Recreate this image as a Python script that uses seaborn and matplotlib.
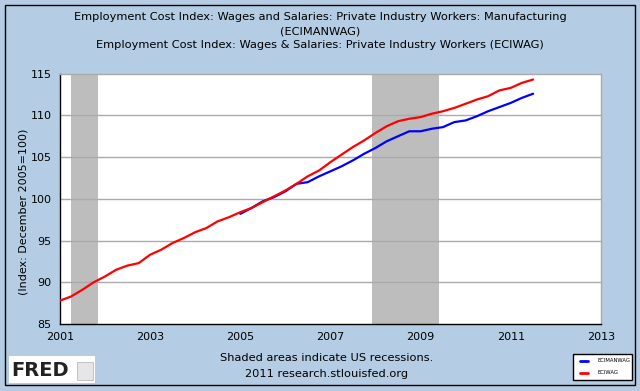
import numpy as np
import pandas as pd
import seaborn as sns
import matplotlib.pyplot as plt
import matplotlib.patches as patches

eciwag_start = "2001-01-01"
eciwag = [87.8, 88.3, 89.1, 90.0, 90.7, 91.5, 92.0, 92.3,
          93.3, 93.9, 94.7, 95.3, 96.0, 96.5, 97.3, 97.8,
          98.4, 98.9, 99.6, 100.3, 101.0, 101.8, 102.7, 103.4,
          104.4, 105.3, 106.2, 107.0, 107.9, 108.7, 109.3, 109.6,
          109.8, 110.2, 110.5, 110.9, 111.4, 111.9, 112.3, 113.0,
          113.3, 113.9, 114.3]
ecimanwag_start = "2005-01-01"
ecimanwag = [98.2, 98.9, 99.7, 100.2, 100.9, 101.8, 102.0, 102.7,
             103.3, 103.9, 104.6, 105.4, 106.1, 106.9, 107.5, 108.1,
             108.1, 108.4, 108.6, 109.2, 109.4, 109.9, 110.5, 111.0,
             111.5, 112.1, 112.6]
recessions = [("2001-04-01", "2001-11-01"), ("2007-12-01", "2009-06-01")]
tick_years = [2001, 2003, 2005, 2007, 2009, 2011, 2013]
y_ticks = [85, 90, 95, 100, 105, 110, 115]
titles = ["Employment Cost Index: Wages and Salaries: Private Industry Workers: Manufacturing",
          "(ECIMANWAG)",
          "Employment Cost Index: Wages & Salaries: Private Industry Workers (ECIWAG)"]

df = pd.concat([
    pd.DataFrame({"date": pd.date_range(ecimanwag_start, periods=len(ecimanwag), freq="QS"),
                  "value": ecimanwag, "series": "ECIMANWAG"}),
    pd.DataFrame({"date": pd.date_range(eciwag_start, periods=len(eciwag), freq="QS"),
                  "value": eciwag, "series": "ECIWAG"}),
])

bg = "#B4CDE4"
sns.set_style("white")
plt.rcParams['font.family'] = ['DejaVu Sans']
plt.rcParams['text.color'] = 'black'
plt.rcParams['axes.labelcolor'] = 'black'

fig = plt.figure(figsize=(6.4, 3.91), dpi=100, facecolor=bg)
ax = fig.add_axes([60 / 640, 1 - 324 / 391, 541 / 640, 250.3 / 391])
ax.set_facecolor("white")

for start, end in recessions:
    ax.axvspan(pd.Timestamp(start), pd.Timestamp(end), color="#BDBDBD", lw=0, zorder=0)

for yv in y_ticks[1:-1]:
    ax.axhline(yv, color="#AAAAAA", lw=1, zorder=0.5)

sns.lineplot(data=df, x="date", y="value", hue="series",
             palette={"ECIMANWAG": "#0000FF", "ECIWAG": "#FF0000"},
             linewidth=1.6, ax=ax, legend=False, zorder=3)

ax.set_xlim(pd.Timestamp("2001-01-01"), pd.Timestamp("2013-01-01"))
ax.set_ylim(85, 115)
ax.set_xticks([pd.Timestamp(f"{y}-01-01") for y in tick_years])
ax.set_xticklabels([str(y) for y in tick_years])
ax.set_yticks(y_ticks)
ax.set_yticklabels([str(v) for v in y_ticks])
ax.tick_params(direction="in", length=5, width=1, color="black",
               labelsize=8, labelcolor="black", pad=6)
ax.set_xlabel("")
ax.set_ylabel("(Index: December 2005=100)", fontsize=8)
ax.yaxis.set_label_coords(-0.058, 0.45)

for side in ["left", "bottom"]:
    ax.spines[side].set_color("black")
    ax.spines[side].set_linewidth(1)
for side in ["top", "right"]:
    ax.spines[side].set_color("#AAAAAA")
    ax.spines[side].set_linewidth(1)

# header
for i, t in enumerate(titles):
    fig.text(0.5, 1 - (17 + 14 * i) / 391, t, ha="center", va="center", fontsize=8.2)

# footer
fig.text(0.51, 1 - 358 / 391, "Shaded areas indicate US recessions.", ha="center", va="center", fontsize=8.2)
fig.text(0.51, 1 - 374 / 391, "2011 research.stlouisfed.org", ha="center", va="center", fontsize=8.2)

# legend box (drawn by hand, FRED style)
fig.patches.append(patches.Rectangle((573 / 640, 1 - 380 / 391), 59 / 640, 26 / 391,
                                     transform=fig.transFigure, facecolor="white",
                                     edgecolor="black", lw=1))
renderer = fig.canvas.get_renderer()
leg_texts = []
for i, (name, col) in enumerate([("ECIMANWAG", "#0000FF"), ("ECIWAG", "#FF0000")]):
    yy = 1 - (361 + 12 * i) / 391
    fig.lines.append(plt.Line2D([580 / 640, 588 / 640], [yy, yy], transform=fig.transFigure,
                                color=col, lw=2))
    leg_texts.append(fig.text(597 / 640, yy, name, ha="left", va="center", fontsize=6,
                              family=["Liberation Sans Narrow", "DejaVu Sans"]))
# shrink so the longest label stays inside the box
w = leg_texts[0].get_window_extent(renderer).width
for txt in leg_texts:
    txt.set_fontsize(6 * min(1.0, 33 / w))

# FRED logo
fig.patches.append(patches.Rectangle((9 / 640, 1 - 383 / 391), 86 / 640, 27 / 391,
                                     transform=fig.transFigure, facecolor="white", lw=0))
fig.text(11 / 640, 1 - 370 / 391, "FRED", ha="left", va="center", fontsize=14,
         fontweight="bold", color="#222222")
fig.patches.append(patches.Rectangle((77 / 640, 1 - 380 / 391), 16 / 640, 18 / 391,
                                     transform=fig.transFigure, facecolor="#E6E6E6",
                                     edgecolor="#BBBBBB", lw=0.6))

# outer frame
fig.patches.append(patches.Rectangle((5 / 640, 6 / 391), 630 / 640, 380 / 391,
                                     transform=fig.transFigure, fill=False,
                                     edgecolor="black", lw=1))

plt.savefig("out.png", dpi=100, facecolor=bg)
